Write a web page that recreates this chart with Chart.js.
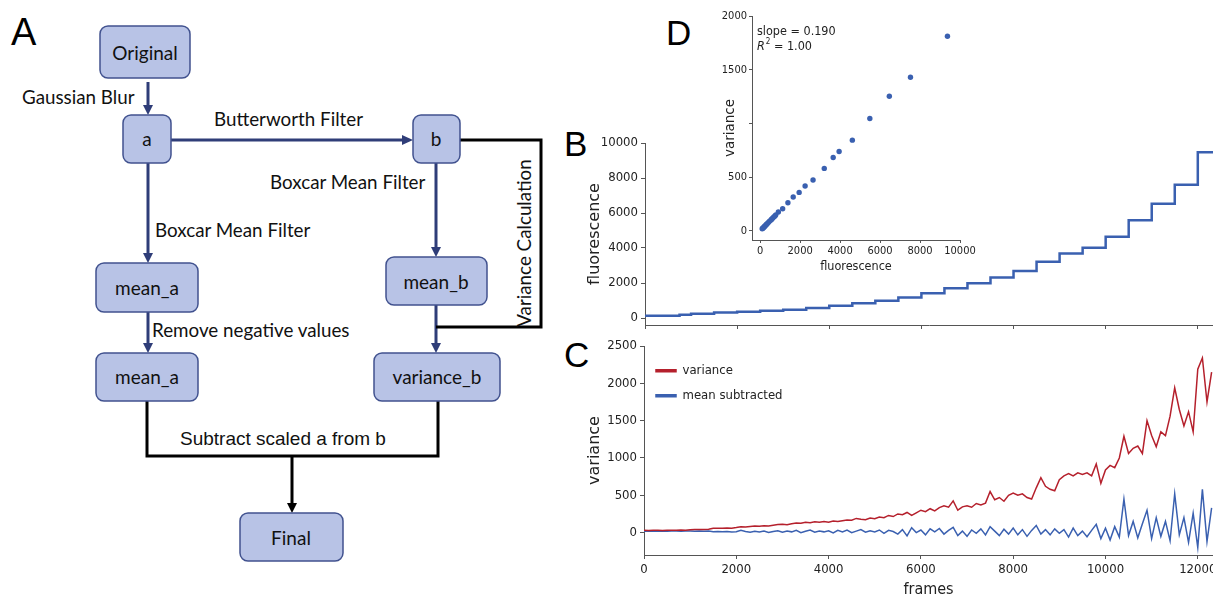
<!DOCTYPE html>
<html>
<head>
<meta charset="utf-8">
<script src="https://cdn.jsdelivr.net/npm/chart.js@4.4.0/dist/chart.umd.min.js"></script>
<style>
body { margin: 0; background: #fff; }
#page { position: relative; width: 1213px; height: 601px; overflow: hidden; }
canvas { position: absolute; }
#flow { position: absolute; left: 0; top: 0; }
.lbl { font-family: Lato, 'Open Sans', sans-serif; font-size: 18.8px; fill: #111; }
.box { fill: #b8c3e6; stroke: #41528f; stroke-width: 1.5; }
.boxtxt { font-family: Lato, 'Open Sans', sans-serif; font-size: 19px; fill: #111; text-anchor: middle; dominant-baseline: central; }
.panel { font-family: 'Liberation Sans', Arial, sans-serif; fill: #000; }
</style>
</head>
<body>
<div id="page">
<svg id="flow" width="1213" height="601">
  <!-- panel letters -->
  <text class="panel" x="11" y="45" font-size="38">A</text>
  <text class="panel" x="564" y="156" font-size="35">B</text>
  <text class="panel" x="564" y="367" font-size="35">C</text>
  <text class="panel" x="666" y="45" font-size="35">D</text>

  <!-- blue arrows -->
  <g stroke="#2f3d78" stroke-width="3" fill="none">
    <line x1="148" y1="82" x2="148" y2="107"/>
    <line x1="171" y1="140" x2="404" y2="140"/>
    <line x1="436" y1="163" x2="436" y2="249"/>
    <line x1="148" y1="163" x2="148" y2="255"/>
    <line x1="148" y1="312" x2="148" y2="345"/>
    <line x1="436" y1="305" x2="436" y2="345"/>
  </g>
  <g fill="#2f3d78">
    <polygon points="143,105 153,105 148,115"/>
    <polygon points="402,135 402,145 413,140"/>
    <polygon points="431,247 441,247 436,257"/>
    <polygon points="143,253 153,253 148,263"/>
    <polygon points="143,343 153,343 148,353"/>
    <polygon points="431,343 441,343 436,353"/>
  </g>

  <!-- black connectors -->
  <g stroke="#000" stroke-width="3" fill="none">
    <polyline points="460,140 541,140 541,327 436,327"/>
    <polyline points="147,401 147,456 438,456 438,401"/>
    <line x1="292" y1="456" x2="292" y2="505"/>
  </g>
  <polygon points="287,503 297,503 292,513" fill="#000"/>

  <!-- boxes -->
  <rect class="box" x="100" y="26" width="90" height="52" rx="8"/>
  <rect class="box" x="123" y="115" width="48" height="48" rx="8"/>
  <rect class="box" x="413" y="115" width="47" height="48" rx="8"/>
  <rect class="box" x="96" y="263" width="102" height="49" rx="8"/>
  <rect class="box" x="386" y="257" width="101" height="48" rx="8"/>
  <rect class="box" x="96" y="353" width="102" height="48" rx="8"/>
  <rect class="box" x="374" y="353" width="126" height="48" rx="8"/>
  <rect class="box" x="240" y="513" width="103" height="48" rx="8"/>

  <text class="boxtxt" x="145" y="52">Original</text>
  <text class="boxtxt" x="147" y="138">a</text>
  <text class="boxtxt" x="436" y="138">b</text>
  <text class="boxtxt" x="147" y="287">mean_a</text>
  <text class="boxtxt" x="436" y="281">mean_b</text>
  <text class="boxtxt" x="147" y="376">mean_a</text>
  <text class="boxtxt" x="437" y="376">variance_b</text>
  <text class="boxtxt" x="291" y="537">Final</text>

  <!-- edge labels -->
  <g class="lbl" dominant-baseline="central">
    <text x="22" y="96">Gaussian Blur</text>
    <text x="214" y="118">Butterworth Filter</text>
    <text x="270" y="181">Boxcar Mean Filter</text>
    <text x="155" y="229">Boxcar Mean Filter</text>
    <text x="152" y="329">Remove negative values</text>
    <text x="523" y="243" text-anchor="middle" transform="rotate(-90 523 243)">Variance Calculation</text>
  </g>
  <text x="180" y="438" dominant-baseline="central" font-family="'Liberation Sans', Arial, sans-serif" font-size="19" fill="#111">Subtract scaled a from b</text>
</svg>
<canvas id="chart-b" width="653" height="200" style="left:560px;top:130px"></canvas>
<canvas id="chart-c" width="653" height="261" style="left:560px;top:340px"></canvas>
<canvas id="chart-d" width="290" height="280" style="left:690px;top:0px"></canvas>
</div>

<script>
// B: stepped fluorescence trace (start frame of each step, level of that step)
const stepFrames = [0, 750, 1000, 1500, 2000, 2500, 3000, 3500, 4000, 4500, 5000, 5500, 6000,
  6500, 7000, 7500, 8000, 8500, 9000, 9500, 10000, 10500, 11000, 11500, 12000, 12330];
const stepLevels = [130, 190, 250, 320, 360, 420, 470, 570, 700, 850, 985, 1170, 1420,
  1700, 1990, 2310, 2690, 3220, 3690, 4015, 4640, 5590, 6530, 7610, 9470, 9470];

// C: variance and mean subtracted, one value every 100 frames
const frameStep = 100;
const varianceVals = [
  30, 28, 32, 30, 29, 33, 31, 30, 34, 32,
  38, 40, 42, 40, 45, 58, 60, 57, 62, 60,
  68, 78, 74, 82, 88, 85, 92, 90, 100, 108,
  112, 105, 118, 128, 125, 138, 132, 145, 140, 150,
  138, 155, 148, 160, 170, 165, 190, 178, 172, 195,
  185, 210, 200, 230, 215, 250, 240, 270, 230, 265,
  300, 280, 320, 290, 335, 360, 340, 425, 300, 345,
  360, 340, 390, 370, 395, 550, 440, 470, 420, 500,
  530, 500, 520, 470, 450, 600, 735, 620, 580, 560,
  710, 760, 790, 760, 800, 780, 800, 760, 920, 660,
  840, 900, 870, 1000, 1290, 1060, 1130, 1160, 1060, 1500,
  1300, 1150, 1350, 1300, 1560, 1940, 1650, 1430, 1620, 1350,
  2190, 2340, 1750, 2150
];
const meanSubVals = [
  18, 20, 17, 19, 21, 18, 20, 22, 19, 21,
  20, 18, 22, 17, 20, 12, 15, 10, 14, 8,
  12, 30, 15, 5, 18, 8, 20, 2, 15, 25,
  5, 22, 10, 30, 0, 18, 35, 5, 20, 10,
  25, -5, 30, 10, 35, 0, 20, 40, 5, 25,
  10, 35, -10, 30, 15, -20, 40, -45, 65, 0,
  35, -30, 50, 10, 55, -20, 30, 70, -40, 20,
  -50, 35, -10, 50, -30, 80, 20, -40, 45, -20,
  60, -30, 40, -50, 30, 95, -20, 40, -30, 50,
  -10, 40, -60, 60, -40, 20, -55, 30, 110, -80,
  60, -100, 80, -60, 450, -40, 150, -70, 120, 300,
  -80, 200, -50, 150, -110, 520, -30, 200, -130, 260,
  -200, 580, -120, 330
];

// D: mean fluorescence vs variance per step
const scatterFluor = [9372, 7521, 6463, 5488, 4612, 3950, 3653, 3207, 2645, 2248, 1950, 1653,
  1388, 1124, 909, 780, 740, 680, 620, 570, 540, 470, 420, 360, 320, 290, 250, 220, 190, 160, 130, 100];
const scatterVar = [1811, 1430, 1254, 1046, 845, 740, 684, 582, 474, 418, 359, 316,
  263, 207, 176, 150, 140, 130, 118, 110, 103, 92, 82, 70, 62, 55, 48, 42, 37, 30, 25, 20];
const fitSlope = '0.190';
const fitR2 = '1.00';

// ticks
const frameTicks = [0, 2000, 4000, 6000, 8000, 10000, 12000];
const fluorTicks = [0, 2000, 4000, 6000, 8000, 10000];
const varTicks = [0, 500, 1000, 1500, 2000, 2500];
const insetXTicks = [0, 2000, 4000, 6000, 8000, 10000];
const insetYTicks = [0, 500, 1000, 1500, 2000];
const insetYLabels = ['0', '500', '', '1500', '2000'];

const blue = '#3a60b0';
const red = '#b5202c';
const axisColor = '#555';
const textColor = '#222';
const condensed = "'DejaVu Sans Condensed', 'Liberation Sans Narrow', 'DejaVu Sans', sans-serif";
const regular = "'DejaVu Sans', sans-serif";
const frameMax = 12330;

Chart.defaults.color = textColor;
Chart.defaults.font.family = condensed;

function fixTicks(list) {
  return function (scale) {
    scale.ticks = list.map(v => ({ value: v }));
  };
}

function fixSize(w, h) {
  return function (scale) {
    if (w !== null) scale.width = w;
    if (h !== null) scale.height = h;
    scale.paddingLeft = 0;
    scale.paddingRight = 0;
    scale.paddingTop = 0;
    scale.paddingBottom = 0;
  };
}

const tickGrid = { drawOnChartArea: false, tickLength: 4, color: axisColor, lineWidth: 1 };
const axisBorder = { display: true, color: axisColor, width: 1 };

// B: fluorescence steps
new Chart(document.getElementById('chart-b'), {
  type: 'line',
  data: {
    datasets: [{
      data: stepFrames.map((f, i) => ({ x: f, y: stepLevels[i] })),
      borderColor: blue,
      borderWidth: 2.5,
      pointRadius: 0,
      stepped: true,
      fill: false
    }]
  },
  options: {
    responsive: false,
    animation: false,
    events: [],
    layout: { padding: { top: 13, left: 0, right: 0, bottom: 0 } },
    plugins: { legend: { display: false }, tooltip: { enabled: false } },
    scales: {
      x: {
        type: 'linear', min: 0, max: frameMax,
        afterBuildTicks: fixTicks(frameTicks),
        afterFit: fixSize(null, 5),
        ticks: { callback: () => '', autoSkip: false },
        grid: tickGrid, border: axisBorder
      },
      y: {
        min: -400, max: 10000,
        afterBuildTicks: fixTicks(fluorTicks),
        afterFit: fixSize(85, null),
        ticks: { callback: v => v, font: { size: 13 }, padding: 3, autoSkip: false },
        title: { display: true, text: 'fluorescence', font: { family: regular, size: 16 }, padding: { top: 25, bottom: 0 } },
        grid: tickGrid, border: axisBorder
      }
    }
  }
});

// C: variance vs mean subtracted
const frames = varianceVals.map((_, i) => i * frameStep);
new Chart(document.getElementById('chart-c'), {
  type: 'line',
  data: {
    datasets: [{
      label: 'variance',
      data: frames.map((f, i) => ({ x: f, y: varianceVals[i] })),
      borderColor: red, backgroundColor: red,
      borderWidth: 1.5, pointRadius: 0, tension: 0
    }, {
      label: 'mean subtracted',
      data: frames.map((f, i) => ({ x: f, y: meanSubVals[i] })),
      borderColor: blue, backgroundColor: blue,
      borderWidth: 1.5, pointRadius: 0, tension: 0
    }]
  },
  options: {
    responsive: false,
    animation: false,
    events: [],
    layout: { padding: { top: 6, left: 0, right: 0, bottom: 0 } },
    plugins: {
      tooltip: { enabled: false },
      legend: {
        position: 'chartArea', align: 'start',
        title: { display: true, text: ' ', font: { size: 1 }, padding: { top: 0, bottom: 11 } },
        labels: { boxWidth: 20, boxHeight: 2, padding: 12, font: { size: 13 }, color: textColor }
      }
    },
    scales: {
      x: {
        type: 'linear', min: 0, max: frameMax,
        afterBuildTicks: fixTicks(frameTicks),
        afterFit: fixSize(null, 46),
        ticks: { callback: v => v, font: { size: 13 }, padding: 3, maxRotation: 0, autoSkip: false },
        title: { display: true, text: 'frames', font: { size: 16 }, padding: { top: 0, bottom: 2 } },
        grid: tickGrid, border: axisBorder
      },
      y: {
        min: -300, max: 2500,
        afterBuildTicks: fixTicks(varTicks),
        afterFit: fixSize(84, null),
        ticks: { callback: v => v, font: { size: 13 }, padding: 3, autoSkip: false },
        title: { display: true, text: 'variance', font: { family: regular, size: 16 }, padding: { top: 25, bottom: 0 } },
        grid: tickGrid, border: axisBorder
      }
    }
  }
});

// D: inset scatter with fit text
const fitText = {
  id: 'fitText',
  afterDraw(chart) {
    const ctx = chart.ctx;
    const x = chart.chartArea.left + 5;
    const y = chart.chartArea.top + 16;
    ctx.save();
    ctx.fillStyle = textColor;
    ctx.textBaseline = 'middle';
    ctx.font = '12.5px ' + condensed;
    ctx.fillText('slope = ' + fitSlope, x, y);
    ctx.font = 'italic 12.5px ' + condensed;
    ctx.fillText('R', x, y + 15);
    const wR = ctx.measureText('R').width;
    ctx.font = '8px ' + condensed;
    ctx.fillText('2', x + wR + 1, y + 10);
    const w2 = ctx.measureText('2').width;
    ctx.font = '12.5px ' + condensed;
    ctx.fillText(' = ' + fitR2, x + wR + w2 + 1, y + 15);
    ctx.restore();
  }
};

new Chart(document.getElementById('chart-d'), {
  type: 'scatter',
  data: {
    datasets: [{
      data: scatterFluor.map((f, i) => ({ x: f, y: scatterVar[i] })),
      backgroundColor: blue, borderColor: blue,
      pointRadius: 2.7, borderWidth: 0
    }]
  },
  options: {
    responsive: false,
    animation: false,
    events: [],
    layout: { padding: { top: 16, left: 0, right: 20, bottom: 0 } },
    plugins: { legend: { display: false }, tooltip: { enabled: false } },
    scales: {
      x: {
        type: 'linear', min: -410, max: 10000,
        afterBuildTicks: fixTicks(insetXTicks),
        afterFit: fixSize(null, 40),
        ticks: { callback: v => v, font: { size: 11 }, padding: 2, maxRotation: 0, autoSkip: false },
        title: { display: true, text: 'fluorescence', font: { size: 12.5 }, padding: { top: 0, bottom: 6 } },
        grid: { drawOnChartArea: false, tickLength: 3, color: axisColor }, border: axisBorder
      },
      y: {
        min: -84, max: 2000,
        afterBuildTicks: fixTicks(insetYTicks),
        afterFit: fixSize(62, null),
        ticks: { callback: (v, i) => insetYLabels[i], font: { size: 11 }, padding: 2, autoSkip: false },
        title: { display: true, text: 'variance', font: { family: regular, size: 13.5 }, padding: { top: 32, bottom: 0 } },
        grid: { drawOnChartArea: false, tickLength: 3, color: axisColor }, border: axisBorder
      }
    }
  },
  plugins: [fitText]
});
</script>
</body>
</html>
